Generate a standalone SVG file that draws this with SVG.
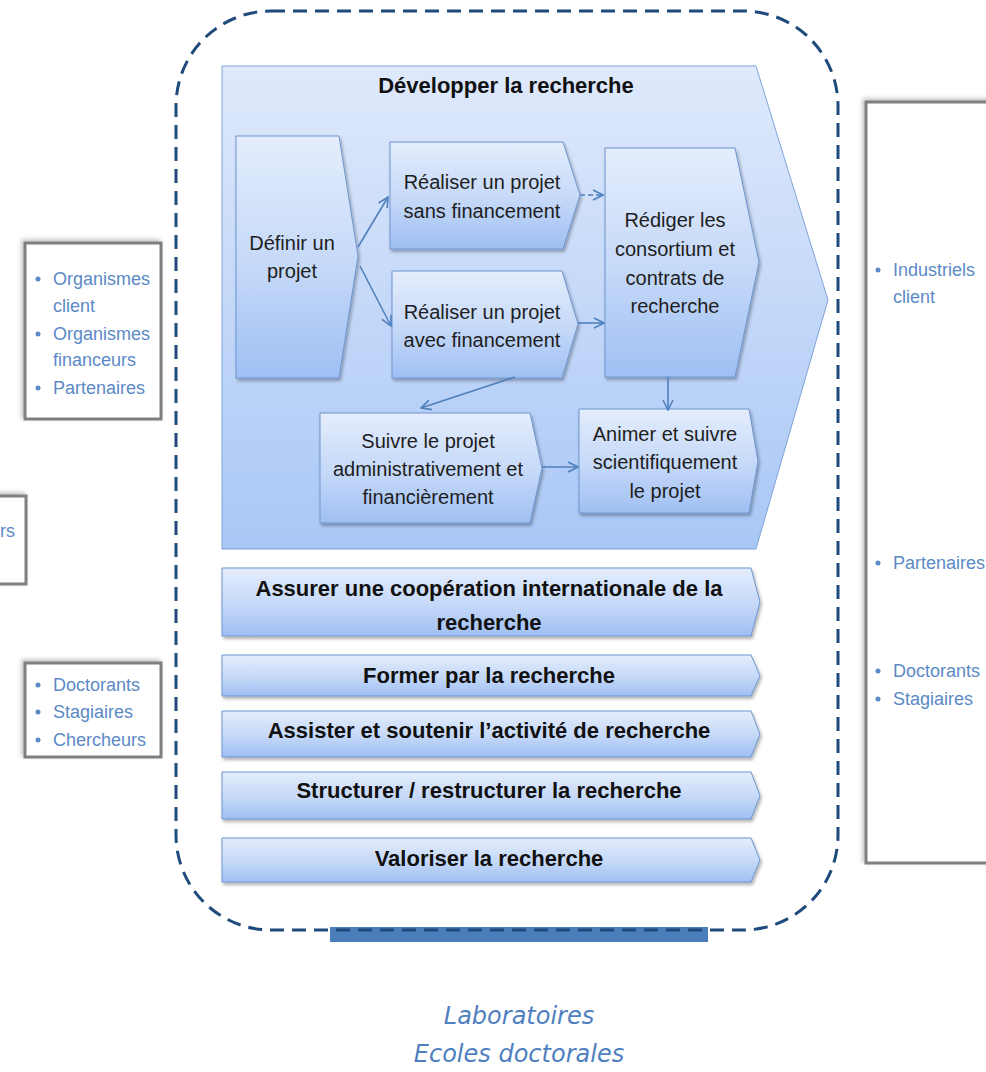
<svg xmlns="http://www.w3.org/2000/svg" width="986" height="1072" viewBox="0 0 986 1072">
<defs>
  <linearGradient id="gBig" x1="0" y1="0" x2="0" y2="1">
    <stop offset="0" stop-color="#dfe9fb"/>
    <stop offset="1" stop-color="#a9c7f6"/>
  </linearGradient>
  <linearGradient id="gNode" x1="0" y1="0" x2="0" y2="1">
    <stop offset="0" stop-color="#e4edfc"/>
    <stop offset="0.55" stop-color="#c4d8f8"/>
    <stop offset="1" stop-color="#9fbff3"/>
  </linearGradient>
  <filter id="sh" x="-10%" y="-10%" width="125%" height="130%">
    <feDropShadow dx="1.5" dy="2.5" stdDeviation="1.8" flood-color="#000" flood-opacity="0.3"/>
  </filter>
  <filter id="shBox" x="-10%" y="-10%" width="125%" height="125%">
    <feDropShadow dx="-2" dy="-2" stdDeviation="2" flood-color="#000" flood-opacity="0.25"/>
  </filter>
  <marker id="arr" viewBox="0 0 12 12" markerWidth="12" markerHeight="12" refX="11" refY="6" orient="auto" markerUnits="userSpaceOnUse">
    <path d="M1,1 L11,6 L1,11" fill="none" stroke="#4f81bd" stroke-width="1.6"/>
  </marker>
  <style>
    .big{fill:url(#gBig);stroke:#7ea4d9;stroke-width:1}
    .node{fill:url(#gNode);stroke:#6c95cf;stroke-width:1;filter:url(#sh)}
    .side{fill:#fff;stroke:#7f7f7f;stroke-width:3;filter:url(#shBox)}
    .t{font-family:"Liberation Sans",Arial,sans-serif;font-size:20px;fill:#1e1e1e;text-anchor:middle}
    .b{font-family:"Liberation Sans",Arial,sans-serif;font-size:22px;font-weight:bold;fill:#111;text-anchor:middle}
    .l{font-family:"Liberation Sans",Arial,sans-serif;font-size:18px;fill:#5b8ac6}
    .dot{fill:#5b8ac6}
    .it{font-family:"DejaVu Sans",sans-serif;font-style:italic;font-size:24px;fill:#4f7fbf;text-anchor:middle}
    .c{fill:none;stroke:#4f81bd;stroke-width:1.6;marker-end:url(#arr)}
  </style>
</defs>
<rect width="986" height="1072" fill="#fff"/>

<g id="box-left-1">
  <rect class="side" x="25" y="243" width="136" height="176"/>
  <circle class="dot" cx="38" cy="279" r="2.5"/>
  <text class="l" x="53" y="285">Organismes</text>
  <text class="l" x="53" y="312">client</text>
  <circle class="dot" cx="38" cy="334" r="2.5"/>
  <text class="l" x="53" y="340">Organismes</text>
  <text class="l" x="53" y="366">financeurs</text>
  <circle class="dot" cx="38" cy="388" r="2.5"/>
  <text class="l" x="53" y="394">Partenaires</text>
</g>
<g id="box-left-2">
  <rect class="side" x="-20" y="496" width="46" height="88"/>
  <text class="l" x="0" y="537">rs</text>
</g>
<g id="box-left-3">
  <rect class="side" x="25" y="663" width="136" height="94"/>
  <circle class="dot" cx="38" cy="685" r="2.5"/>
  <text class="l" x="53" y="691">Doctorants</text>
  <circle class="dot" cx="38" cy="712" r="2.5"/>
  <text class="l" x="53" y="718">Stagiaires</text>
  <circle class="dot" cx="38" cy="740" r="2.5"/>
  <text class="l" x="53" y="746">Chercheurs</text>
</g>
<g id="box-right">
  <rect class="side" x="866" y="102" width="140" height="761"/>
  <circle class="dot" cx="878" cy="270" r="2.5"/>
  <text class="l" x="893" y="276">Industriels</text>
  <text class="l" x="893" y="303">client</text>
  <circle class="dot" cx="878" cy="563" r="2.5"/>
  <text class="l" x="893" y="569">Partenaires</text>
  <circle class="dot" cx="878" cy="671" r="2.5"/>
  <text class="l" x="893" y="677">Doctorants</text>
  <circle class="dot" cx="878" cy="699" r="2.5"/>
  <text class="l" x="893" y="705">Stagiaires</text>
</g>

<g id="bottom-bar">
  <rect x="330" y="927" width="378" height="15" fill="#4a7ebb"/>
</g>
<g id="boundary">
  <rect x="176" y="11" width="662" height="919" rx="95" ry="95" fill="none" stroke="#1f4a7c" stroke-width="3" stroke-dasharray="14 8"/>
</g>

<g id="developper">
  <path class="big" d="M222,66 L756,66 L828,300 L756,549 L222,549 Z"/>
  <text class="b" x="506" y="93">Développer la recherche</text>
</g>
<g id="definir">
  <path class="node" d="M236,136 L339,136 L358,256 L339,378 L236,378 Z"/>
  <text class="t" x="292" y="250">Définir un</text>
  <text class="t" x="292" y="278">projet</text>
</g>
<g id="sans-financement">
  <path class="node" d="M390,142 L563,142 L580,195 L563,249 L390,249 Z"/>
  <text class="t" x="482" y="189">Réaliser un projet</text>
  <text class="t" x="482" y="218">sans financement</text>
</g>
<g id="avec-financement">
  <path class="node" d="M392,271 L562,271 L578,324 L562,378 L392,378 Z"/>
  <text class="t" x="482" y="319">Réaliser un projet</text>
  <text class="t" x="482" y="347">avec financement</text>
</g>
<g id="rediger">
  <path class="node" d="M605,148 L735,148 L759,262 L735,377 L605,377 Z"/>
  <text class="t" x="675" y="227">Rédiger les</text>
  <text class="t" x="675" y="256">consortium et</text>
  <text class="t" x="675" y="285">contrats de</text>
  <text class="t" x="675" y="313">recherche</text>
</g>
<g id="suivre">
  <path class="node" d="M320,413 L530,413 L542,468 L530,523 L320,523 Z"/>
  <text class="t" x="428" y="448">Suivre le projet</text>
  <text class="t" x="428" y="476">administrativement et</text>
  <text class="t" x="428" y="504">financièrement</text>
</g>
<g id="animer">
  <path class="node" d="M579,409 L749,409 L758,461 L749,513 L579,513 Z"/>
  <text class="t" x="665" y="441">Animer et suivre</text>
  <text class="t" x="665" y="469">scientifiquement</text>
  <text class="t" x="665" y="498">le projet</text>
</g>

<g id="connectors">
  <path class="c" d="M358,247 L388,197"/>
  <path class="c" d="M360,266 L391,326"/>
  <path class="c" d="M580,195 L603,195" stroke-dasharray="5 3"/>
  <path class="c" d="M578,323 L604,323"/>
  <path class="c" d="M515,377 L421,408"/>
  <path class="c" d="M668,377 L668,410"/>
  <path class="c" d="M542,467 L578,467"/>
</g>

<g id="cooperation">
  <path class="node" d="M222,568 L751,568 L760,602 L751,636 L222,636 Z"/>
  <text class="b" x="489" y="596">Assurer une coopération internationale de la</text>
  <text class="b" x="489" y="630">recherche</text>
</g>
<g id="former">
  <path class="node" d="M222,655 L751,655 L760,675.5 L751,696 L222,696 Z"/>
  <text class="b" x="489" y="683">Former par la recherche</text>
</g>
<g id="assister">
  <path class="node" d="M222,711 L751,711 L760,734 L751,757 L222,757 Z"/>
  <text class="b" x="489" y="738">Assister et soutenir l’activité de recherche</text>
</g>
<g id="structurer">
  <path class="node" d="M222,772 L751,772 L760,795.5 L751,819 L222,819 Z"/>
  <text class="b" x="489" y="798">Structurer / restructurer la recherche</text>
</g>
<g id="valoriser">
  <path class="node" d="M222,838 L751,838 L760,860 L751,882 L222,882 Z"/>
  <text class="b" x="489" y="866">Valoriser la recherche</text>
</g>

<g id="legend">
  <text class="it" x="519" y="1024">Laboratoires</text>
  <text class="it" x="519" y="1062">Ecoles doctorales</text>
</g>
</svg>
